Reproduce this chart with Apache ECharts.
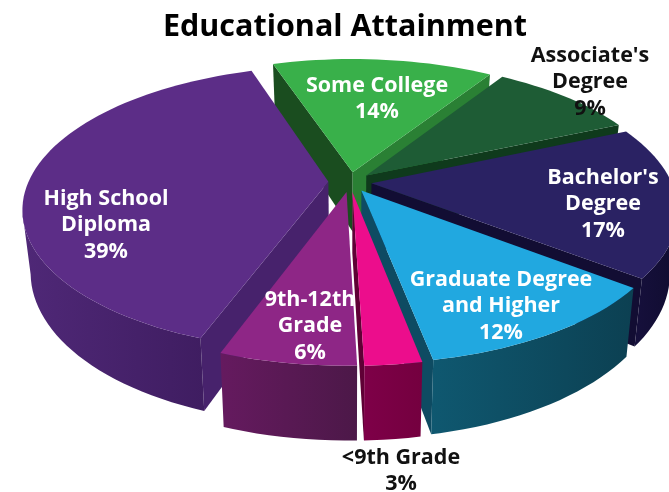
<!DOCTYPE html>
<html>
<head>
<meta charset="utf-8">
<style>html,body{margin:0;padding:0;background:#fff}#chart{width:669px;height:492px}</style>
<script src="https://cdn.jsdelivr.net/npm/echarts@6/dist/echarts.min.js"></script>
</head>
<body>
<div id="chart"></div>
<script>
(()=>{
    "use strict";
    // clockwise from the back of the pie
    const categories = ["Some College", "Associate's\nDegree", "Bachelor's\nDegree", "Graduate Degree\nand Higher", "<9th Grade", "9th-12th\nGrade", "High School\nDiploma"];
    const percentLabels = ["14%", "9%", "17%", "12%", "3%", "6%", "39%"];
    // shares, they round to the printed labels
    const shares = [14.1, 9.4, 17.1, 11.5, 2.5, 6.0, 39.4];

    const topColors = ["#39b04a", "#1e5c35", "#2a2263", "#21a8e0", "#ec0d8c", "#8e2686", "#5c2d87"];
    const radialColors = [["#1a4d1f", "#2a8034"], ["#0f3a1c", "#0f3a1c"], ["#120d33", "#120d33"], ["#0e4b62", "#0e4b62"], ["#5f0035", "#5f0035"], ["#4f1a4d", "#4f1a4d"], ["#47226c", "#47226c"]];
    const wallColors = [["#1a4d1f", "#1a4d1f"], ["#0f3a1c", "#0f3a1c"], ["#16103c", "#100c30"], ["#0f5870", "#0c4052"], ["#7e0048", "#74003f"], ["#651a5f", "#4c1848"], ["#4f2877", "#3f1d61"]];
    const labelColors = ["#fff", "#111", "#fff", "#fff", "#111", "#fff", "#fff"];
    const labelXY = [[377, 99], [590, 82], [603, 204], [501, 306], [401, 471], [310, 326], [106, 225]];

    const startAngle = 341.7, cx = 350, cy = 182, rx = 300, ry = 137.5, persp = 0.185, height = 60, taper = 0.025, explode = 0.072;
    const rad = d => d * Math.PI / 180;

    // ground circle -> screen, z is 0 on the top face and 1 on the bottom
    const project = (u, v, z) => {
        const w = 1 - persp * v;
        return [cx + rx * u / w * (1 - taper * z), cy + (ry * v + height * z) / w];
    };

    const total = shares.reduce((a, b) => a + b, 0);
    let run = startAngle;
    const slices = shares.map((p, i) => {
        const a0 = run, a1 = run + p / total * 360;
        run = a1;
        return {i, a0, a1, mid: (a0 + a1) / 2};
    });
    const drawOrder = slices.slice().sort((a, b) => -Math.cos(rad(a.mid)) + Math.cos(rad(b.mid)));

    const renderSlice = (params) => {
        const s = drawOrder[params.dataIndex], i = s.i;
        const ox = explode * Math.sin(rad(s.mid)), oy = -explode * Math.cos(rad(s.mid));
        const at = (r, deg, z) => project(ox + r * Math.sin(rad(deg)), oy - r * Math.cos(rad(deg)), z);
        const arc = [];
        for (let d = s.a0; d < s.a1; d += 2) arc.push(d);
        arc.push(s.a1);
        const top = arc.map(d => at(1, d, 0));
        const apex = at(0, 0, 0), apexLow = at(0, 0, 1);
        const children = [];
        const poly = (points, fill) => children.push({type: "polygon", shape: {points}, style: {fill, stroke: null}, silent: true});

        // radial walls that face the viewer
        if (top[0][0] < apex[0]) poly([apex, top[0], at(1, s.a0, 1), apexLow], radialColors[i][0]);
        if (top[top.length - 1][0] > apex[0]) poly([apex, top[top.length - 1], at(1, s.a1, 1), apexLow], radialColors[i][1]);

        // outer wall, only the stretch turned to the viewer
        const front = arc.filter((d) => at(1, d + 0.5, 0)[0] < at(1, d, 0)[0]);
        if (front.length > 1) {
            const upper = front.map(d => at(1, d, 0));
            const lower = front.map(d => at(1, d, 1)).reverse();
            poly(upper.concat(lower), new echarts.graphic.LinearGradient(0, 0, 1, 0, [
                {offset: 0, color: wallColors[i][0]}, {offset: 1, color: wallColors[i][1]}
            ]));
        }

        poly([apex].concat(top), topColors[i]);

        children.push({
            type: "text", z2: 100, silent: true,
            x: labelXY[i][0], y: labelXY[i][1],
            style: {
                text: categories[i] + "\n" + percentLabels[i],
                fill: labelColors[i],
                font: "bold 21.5px 'Open Sans'",
                align: "center", verticalAlign: "middle", lineHeight: 26.5
            }
        });
        return {type: "group", children};
    };

    const chart = echarts.init(document.getElementById("chart"));
    chart.setOption({
        animation: false,
        backgroundColor: "#fff",
        title: {
            text: "Educational Attainment", left: 340, top: 7, textAlign: "center",
            textStyle: {color: "#000", fontFamily: "Open Sans", fontWeight: "bold", fontSize: 30.5}
        },
        series: [{
            type: "custom",
            coordinateSystem: "none",
            renderItem: renderSlice,
            data: drawOrder.map(s => shares[s.i])
        }]
    });
})();
</script>
</body>
</html>
